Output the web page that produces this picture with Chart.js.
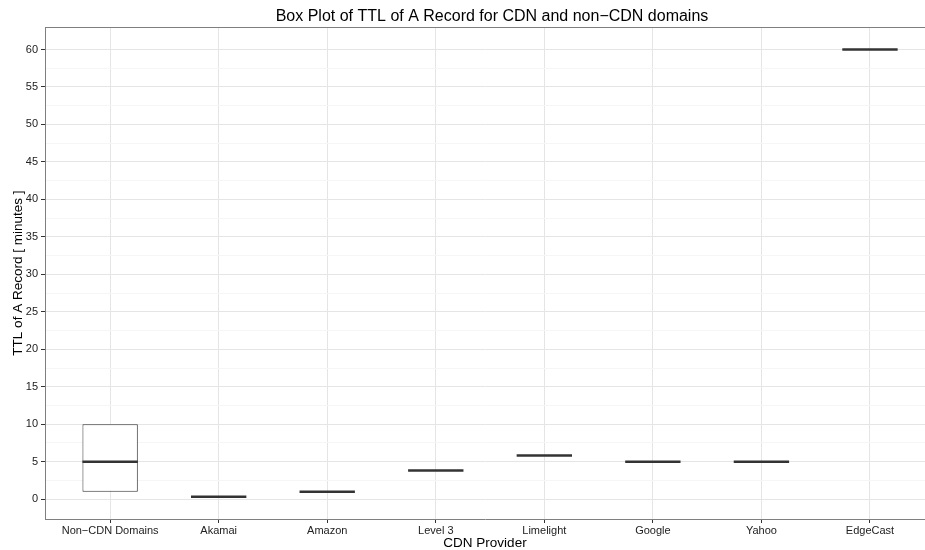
<!DOCTYPE html>
<html>
<head>
<meta charset="utf-8">
<script src="https://cdn.jsdelivr.net/npm/chart.js@4/dist/chart.umd.min.js"></script>
<style>
  html, body { margin: 0; padding: 0; background: #ffffff; overflow: hidden; width: 925px; height: 550px; }
</style>
</head>
<body>
<canvas id="c" width="925" height="550"></canvas>
<script>
const categories = ['Non\u2212CDN Domains', 'Akamai', 'Amazon', 'Level 3', 'Limelight', 'Google', 'Yahoo', 'EdgeCast'];
const lowerHinge = [1, 0.33, 1, 3.83, 5.83, 5, 5, 60];
const medians    = [5, 0.33, 1, 3.83, 5.83, 5, 5, 60];
const upperHinge = [10, 0.33, 1, 3.83, 5.83, 5, 5, 60];
const yMajorTicks = [0, 5, 10, 15, 20, 25, 30, 35, 40, 45, 50, 55, 60];
const yMinorTicks = [2.5, 7.5, 12.5, 17.5, 22.5, 27.5, 32.5, 37.5, 42.5, 47.5, 52.5, 57.5];

const FONT = "'Liberation Sans', Arial, Helvetica, sans-serif";

const boxData = categories.map((c, i) => ({ x: i, y: [lowerHinge[i], upperHinge[i]] }));

const medianPlugin = {
  id: 'medians',
  afterDatasetsDraw(chart) {
    const meta = chart.getDatasetMeta(0);
    const ys = chart.scales.y;
    const ctx = chart.ctx;
    ctx.save();
    ctx.strokeStyle = '#333333';
    ctx.lineWidth = 2.5;
    meta.data.forEach((bar, i) => {
      const py = ys.getPixelForValue(medians[i]);
      ctx.beginPath();
      ctx.moveTo(bar.x - bar.width / 2, py);
      ctx.lineTo(bar.x + bar.width / 2, py);
      ctx.stroke();
    });
    ctx.restore();
  }
};

// The panel continues past the right edge of the window; centre the title on the full panel.
const titleCentre = {
  id: 'titleCentre',
  afterLayout(chart) {
    const tb = chart.titleBlock;
    if (tb) {
      tb.left = chart.chartArea.left;
      tb.right = chart.chartArea.left + 894;
      tb.width = tb.right - tb.left;
    }
  }
};

const panelBorder = {
  id: 'panelBorder',
  afterDraw(chart) {
    const a = chart.chartArea;
    const ctx = chart.ctx;
    ctx.save();
    ctx.strokeStyle = '#7f7f7f';
    ctx.lineWidth = 1;
    ctx.beginPath();
    const t = Math.round(a.top) + 0.5;
    ctx.moveTo(Math.round(a.left), t);
    ctx.lineTo(a.right, t);
    ctx.stroke();
    ctx.restore();
  }
};

new Chart(document.getElementById('c'), {
  type: 'bar',
  data: {
    datasets: [{
      data: boxData,
      backgroundColor: '#ffffff',
      borderColor: '#333333',
      borderWidth: 1,
      borderSkipped: false,
      barPercentage: 0.51,
      categoryPercentage: 1
    }]
  },
  options: {
    responsive: false,
    animation: false,
    layout: { padding: 0 },
    plugins: {
      legend: { display: false },
      tooltip: { enabled: false },
      title: {
        display: true,
        fullSize: false,
        text: 'Box Plot of TTL of A Record for CDN and non\u2212CDN domains',
        color: '#000000',
        font: { family: FONT, size: 16, weight: 'normal' },
        padding: { top: 7, bottom: 1 }
      }
    },
    scales: {
      x: {
        type: 'linear',
        min: -0.6,
        max: 7.507,
        offset: false,
        afterBuildTicks(scale) { scale.ticks = categories.map((c, i) => ({ value: i })); },
        afterFit(scale) { scale.height = 31; },
        ticks: {
          autoSkip: false,
          maxRotation: 0,
          padding: 1,
          color: '#222222',
          font: { family: FONT, size: 11 },
          callback: (v) => categories[v]
        },
        grid: {
          offset: false,
          color: '#e5e5e5',
          lineWidth: 1,
          drawTicks: true,
          tickLength: 4,
          tickColor: '#333333'
        },
        border: { display: true, color: '#7f7f7f' },
        title: {
          display: true,
          text: 'CDN Provider',
          color: '#000000',
          font: { family: FONT, size: 13.5, lineHeight: 1 },
          padding: { top: 0, bottom: 0 }
        }
      },
      y: {
        type: 'linear',
        min: -2.65,
        max: 62.98,
        afterBuildTicks(scale) {
          const all = yMajorTicks.concat(yMinorTicks).sort((a, b) => a - b);
          scale.ticks = all.map(v => ({ value: v }));
        },
        afterFit(scale) { scale.width = 45; },
        ticks: {
          autoSkip: false,
          padding: 3,
          color: '#222222',
          font: { family: FONT, size: 11 },
          callback: (v) => (yMajorTicks.includes(v) ? String(v) : '')
        },
        grid: {
          color: (ctx) => (ctx.tick && yMajorTicks.includes(ctx.tick.value) ? '#e5e5e5' : '#f6f6f6'),
          lineWidth: 1,
          drawTicks: true,
          tickLength: 4,
          tickColor: (ctx) => (ctx.tick && yMajorTicks.includes(ctx.tick.value) ? '#333333' : 'rgba(0,0,0,0)')
        },
        border: { display: true, color: '#7f7f7f' },
        title: {
          display: true,
          text: 'TTL of A Record [ minutes ]',
          color: '#000000',
          font: { family: FONT, size: 13.5 },
          padding: { top: 10, bottom: 0 }
        }
      }
    }
  },
  plugins: [medianPlugin, titleCentre, panelBorder]
});
</script>
</body>
</html>
